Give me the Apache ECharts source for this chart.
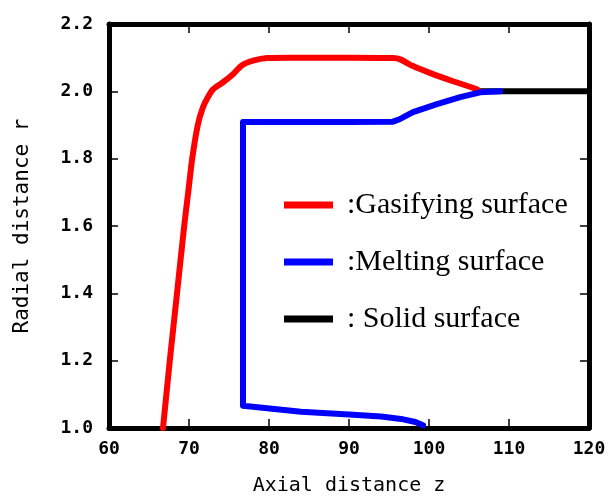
<!DOCTYPE html>
<html>
<head>
<meta charset="utf-8">
<script src="https://cdn.jsdelivr.net/npm/echarts@6/dist/echarts.min.js"></script>
<style>
  html, body { margin: 0; padding: 0; background: #fff; }
  #chart { width: 610px; height: 501px; }
</style>
</head>
<body>
<div id="chart"></div>
<script>
// gasifying surface (red)
const gasZ = [66.75, 67.6, 68.5, 69.4, 69.9, 70.4, 71.1, 71.7, 72.3, 73.0, 74.25, 75.5, 76.6, 78.0, 79.75, 82.6, 90, 95.5, 96.4, 98.0, 100.5, 103.0, 106.0, 106.3];
const gasR = [1.0, 1.2, 1.4, 1.6, 1.7, 1.8, 1.9, 1.95, 1.98, 2.006, 2.027, 2.051, 2.077, 2.091, 2.099, 2.1, 2.1, 2.099, 2.095, 2.075, 2.051, 2.03, 2.006, 2.0];

// melting surface (blue)
const meltZ = [99.25, 98.3, 96.5, 94, 90, 84, 76.75, 76.75, 90, 95.5, 96.4, 98.0, 101.0, 103.9, 106.4, 108.9];
const meltR = [1.008, 1.018, 1.027, 1.034, 1.04, 1.048, 1.066, 1.909, 1.909, 1.91, 1.918, 1.938, 1.962, 1.983, 1.997, 2.0];

// solid surface (black)
const solidZ = [106, 120];
const solidR = [2.0, 2.0];

const names = [':Gasifying surface', ':Melting surface', ': Solid surface'];

const zip = (xs, ys) => xs.map((x, i) => [x, ys[i]]);

const chart = echarts.init(document.getElementById('chart'));

const monoFont = 'DejaVu Sans Mono';
const lineStyle = { color: '#000', width: 5 };

function xAx(pos, show) {
    return {
        type: 'value', position: pos, min: 60, max: 120, interval: 10,
        axisLine: { show: true, onZero: false, lineStyle: lineStyle },
        axisTick: { show: true, inside: true, length: 9, lineStyle: { color: '#000', width: 1.5 } },
        axisLabel: { show: show, color: '#000', fontSize: 18, fontWeight: 'bold', fontFamily: monoFont, margin: 12 },
        splitLine: { show: false },
        name: show ? 'Axial distance z' : '',
        nameLocation: 'middle', nameGap: 48,
        nameTextStyle: { color: '#000', fontSize: 20, fontFamily: monoFont }
    };
}

function yAx(pos, show) {
    return {
        type: 'value', position: pos, min: 1.0, max: 2.2, interval: 0.2,
        axisLine: { show: true, onZero: false, lineStyle: lineStyle },
        axisTick: { show: true, inside: true, length: 9, lineStyle: { color: '#000', width: 1.5 } },
        axisLabel: { show: show, color: '#000', fontSize: 18, fontWeight: 'bold', fontFamily: monoFont, margin: 16,
            formatter: v => v.toFixed(1) },
        splitLine: { show: false },
        name: show ? 'Radial distance r' : '',
        nameLocation: 'middle', nameGap: 76,
        nameTextStyle: { color: '#000', fontSize: 21, fontFamily: monoFont }
    };
}

function line(name, data, color, smooth) {
    return {
        name: name, type: 'line', data: data, showSymbol: false, smooth: smooth,
        xAxisIndex: 0, yAxisIndex: 0,
        lineStyle: { color: color, width: 6, cap: 'round', join: 'round' },
        itemStyle: { color: color },
        animation: false
    };
}

chart.setOption({
    backgroundColor: '#fff',
    grid: { left: 109, right: 21, top: 24, bottom: 71 },
    xAxis: [xAx('bottom', true), xAx('top', false)],
    yAxis: [yAx('left', true), yAx('right', false)],
    legend: {
        orient: 'vertical', left: 279, top: 184,
        icon: 'rect', itemWidth: 49, itemHeight: 7, itemGap: 25,
        data: names,
        textStyle: { color: '#000', fontSize: 30, fontFamily: 'Liberation Serif', lineHeight: 32, padding: [0, 0, 0, 9] }
    },
    series: [
        line(names[2], zip(solidZ, solidR), '#000000', false),
        line(names[0], zip(gasZ, gasR), '#ff0000', 0.25),
        line(names[1], zip(meltZ, meltR), '#0000ff', false)
    ]
});
</script>
</body>
</html>
